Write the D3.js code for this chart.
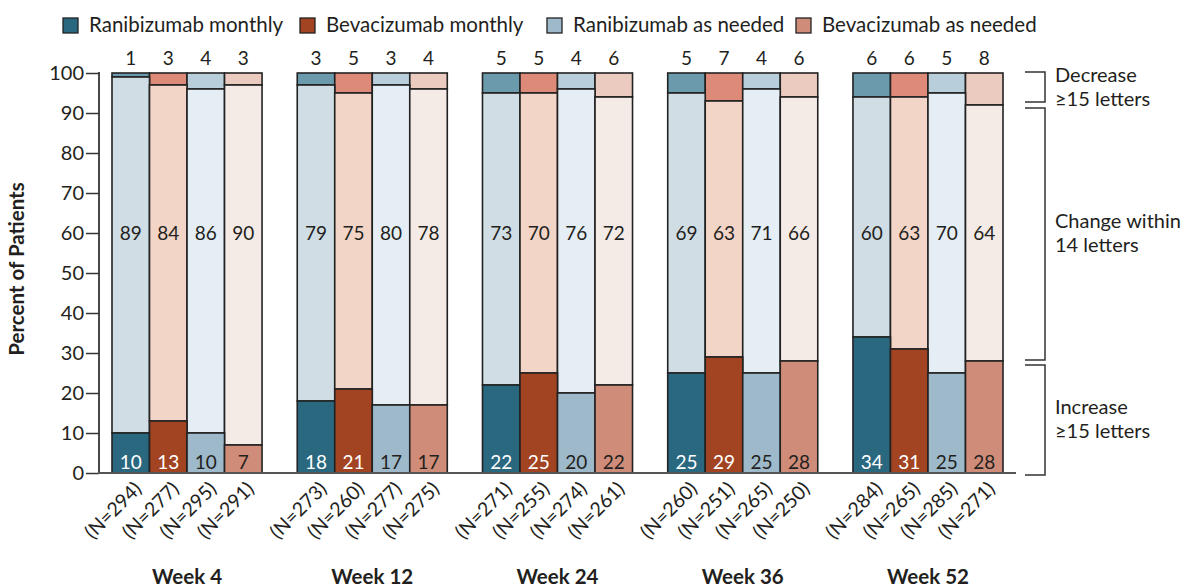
<!DOCTYPE html>
<html>
<head>
<meta charset="utf-8">
<script src="https://cdn.jsdelivr.net/npm/d3@7"></script>
<style>
  body { margin: 0; background: #fff; }
  svg text { font-family: Lato, "Noto Sans", sans-serif; fill: #231f20; }
</style>
</head>
<body>
<svg id="svg" width="1189" height="588"></svg>
<script>
const weeks = ['Week 4', 'Week 12', 'Week 24', 'Week 36', 'Week 52']
const groups = ['Ranibizumab monthly', 'Bevacizumab monthly', 'Ranibizumab as needed', 'Bevacizumab as needed']

// rows = weeks, columns = groups
const increase = [
  [10, 13, 10, 7],
  [18, 21, 17, 17],
  [22, 25, 20, 22],
  [25, 29, 25, 28],
  [34, 31, 25, 28]
]
const within = [
  [89, 84, 86, 90],
  [79, 75, 80, 78],
  [73, 70, 76, 72],
  [69, 63, 71, 66],
  [60, 63, 70, 64]
]
const decrease = [
  [1, 3, 4, 3],
  [3, 5, 3, 4],
  [5, 5, 4, 6],
  [5, 7, 4, 6],
  [6, 6, 5, 8]
]
const counts = [
  [294, 277, 295, 291],
  [273, 260, 277, 275],
  [271, 255, 274, 261],
  [260, 251, 265, 250],
  [284, 265, 285, 271]
]
const yTicks = [0, 10, 20, 30, 40, 50, 60, 70, 80, 90, 100]

const dark = ['#2a6880', '#a24422', '#9db9ca', '#cf8c78']
const mid = ['#d0dde4', '#f2d5c6', '#e5eef4', '#f4ebe7']
const light = ['#6b9aad', '#de8a78', '#b8ceda', '#ebcbbf']
const insideText = ['#fff', '#fff', '#231f20', '#231f20']

const svg = d3.select('#svg')

const xScale = d3.scaleBand()
  .domain(weeks)
  .range([112, 1003])
  .paddingInner(0.19)

const inner = d3.scaleBand()
  .domain(groups)
  .range([0, xScale.bandwidth()])

const yScale = d3.scaleLinear()
  .domain([0, 100])
  .range([473, 73])

// legend
const legendX = [63, 300, 547, 796]
const legend = svg.append('g')
groups.forEach((g, i) => {
  legend.append('rect')
    .attr('x', legendX[i]).attr('y', 18)
    .attr('width', 15).attr('height', 15)
    .attr('fill', dark[i]).attr('stroke', '#222').attr('stroke-width', 1.3)
  legend.append('text')
    .attr('x', legendX[i] + 26).attr('y', 32)
    .attr('font-size', 20.5)
    .text(g)
})

// bars
const rows = []
weeks.forEach((w, wi) => {
  groups.forEach((g, gi) => {
    rows.push({
      week: w, group: g, gi,
      inc: increase[wi][gi],
      within: within[wi][gi],
      dec: decrease[wi][gi],
      n: counts[wi][gi]
    })
  })
})

const barX = d => xScale(d.week) + inner(d.group)
const bw = inner.bandwidth()

const bars = svg.append('g')
  .attr('stroke', '#222')
  .attr('stroke-width', 1.6)

// decrease sits on top, from 100 - dec up to 100
bars.selectAll('rect.dec')
  .data(rows).enter().append('rect')
  .attr('x', barX).attr('width', bw)
  .attr('y', yScale(100))
  .attr('height', d => yScale(100 - d.dec) - yScale(100))
  .attr('fill', d => light[d.gi])

bars.selectAll('rect.within')
  .data(rows).enter().append('rect')
  .attr('x', barX).attr('width', bw)
  .attr('y', d => yScale(100 - d.dec))
  .attr('height', d => yScale(d.inc) - yScale(100 - d.dec))
  .attr('fill', d => mid[d.gi])

bars.selectAll('rect.inc')
  .data(rows).enter().append('rect')
  .attr('x', barX).attr('width', bw)
  .attr('y', d => yScale(d.inc))
  .attr('height', d => yScale(0) - yScale(d.inc))
  .attr('fill', d => dark[d.gi])

const labels = svg.append('g')
  .attr('text-anchor', 'middle')
  .attr('font-size', 19)

labels.selectAll('text.top')
  .data(rows).enter().append('text')
  .attr('x', d => barX(d) + bw / 2)
  .attr('y', yScale(100) - 8)
  .text(d => d.dec)

labels.selectAll('text.mid')
  .data(rows).enter().append('text')
  .attr('x', d => barX(d) + bw / 2)
  .attr('y', yScale(60) + 7)
  .text(d => d.within)

labels.selectAll('text.bot')
  .data(rows).enter().append('text')
  .attr('x', d => barX(d) + bw / 2)
  .attr('y', yScale(0) - 4)
  .style('fill', d => insideText[d.gi])
  .text(d => d.inc)

// N labels
svg.append('g')
  .attr('font-size', 19.5)
  .attr('text-anchor', 'end')
  .selectAll('text')
  .data(rows).enter().append('text')
  .attr('transform', d => `translate(${barX(d) + bw / 2 + 12}, ${yScale(0) + 17}) rotate(-45)`)
  .text(d => `(N=${d.n})`)

// week labels
svg.append('g')
  .attr('font-size', 20.5)
  .attr('font-weight', 'bold')
  .attr('text-anchor', 'middle')
  .selectAll('text')
  .data(weeks).enter().append('text')
  .attr('x', d => xScale(d) + xScale.bandwidth() / 2)
  .attr('y', 584)
  .text(d => d)

// y axis
const yAxis = d3.axisLeft(yScale)
  .tickValues(yTicks)
  .tickSize(13)
  .tickPadding(2)

const yg = svg.append('g')
  .attr('transform', 'translate(99, 0)')
  .call(yAxis)
yg.select('.domain').remove()
yg.selectAll('.tick line').attr('stroke', '#333').attr('stroke-width', 1.5)
yg.selectAll('.tick text').attr('font-size', 20).attr('font-family', 'Lato, sans-serif').attr('fill', '#231f20')

svg.append('line')
  .attr('x1', 99).attr('x2', 99)
  .attr('y1', yScale(100) - 1).attr('y2', yScale(0))
  .attr('stroke', '#333').attr('stroke-width', 1.8)
svg.append('line')
  .attr('x1', 98).attr('x2', 1016)
  .attr('y1', yScale(0)).attr('y2', yScale(0))
  .attr('stroke', '#555').attr('stroke-width', 2.2)

svg.append('text')
  .attr('transform', `translate(24, ${yScale(51)}) rotate(-90)`)
  .attr('text-anchor', 'middle')
  .attr('font-size', 20.5)
  .attr('font-weight', 'bold')
  .text('Percent of Patients')

// brackets at right
const brackets = [
  { y1: 72, y2: 102, lines: ['Decrease', '\u226515 letters'], ty: 82 },
  { y1: 108, y2: 360, lines: ['Change within', '14 letters'], ty: 228 },
  { y1: 365, y2: 475, lines: ['Increase', '\u226515 letters'], ty: 414 }
]
const br = svg.append('g')
brackets.forEach(b => {
  br.append('path')
    .attr('d', `M1025,${b.y1}H1045V${b.y2}H1025`)
    .attr('fill', 'none').attr('stroke', '#333').attr('stroke-width', 1.5)
  b.lines.forEach((l, i) => {
    br.append('text')
      .attr('x', 1055).attr('y', b.ty + i * 24)
      .attr('font-size', 20)
      .text(l)
  })
})
</script>
</body>
</html>
